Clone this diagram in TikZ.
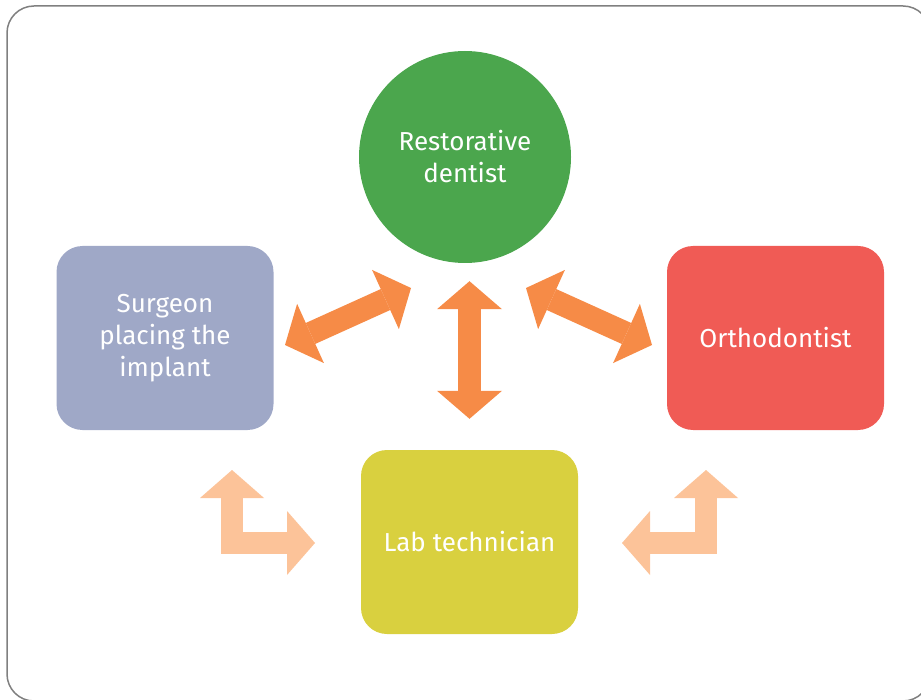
\documentclass[tikz,border=0pt]{standalone}
\usepackage{fontspec}
\setmainfont{Fira Sans}
\usetikzlibrary{arrows.meta}
\definecolor{leadgreen}{RGB}{75,166,77}
\definecolor{surgeonblue}{RGB}{159,168,199}
\definecolor{orthored}{RGB}{240,91,85}
\definecolor{labyellow}{RGB}{217,208,63}
\definecolor{linkorange}{RGB}{246,139,71}
\definecolor{linkpeach}{RGB}{252,195,153}
\definecolor{framegray}{RGB}{128,128,128}

\begin{document}
\begin{tikzpicture}[x=1pt,y=-1pt]
  \tikzstyle{every node}=[text=white,align=center,font=\fontsize{26}{32}\selectfont]
  \tikzstyle{role}=[rectangle,rounded corners=26pt,minimum width=217pt,minimum height=184pt,inner sep=0pt]
  \tikzstyle{lead}=[circle,minimum size=212pt,inner sep=0pt]
  \tikzstyle{twoway}=[draw=linkorange,line width=23pt,
    {Triangle[length=28pt,width=65pt,line width=0pt]}-{Triangle[length=28pt,width=65pt,line width=0pt]}]
  \tikzstyle{turn}=[draw=linkpeach,line width=22pt,line join=miter,
    {Triangle[length=28pt,width=64pt,line width=0pt]}-{Triangle[length=28pt,width=64pt,line width=0pt]}]

  \useasboundingbox (0,0) rectangle (921,700);
  \clip (0,0) rectangle (921,700);
  \draw[framegray,line width=1.5pt,rounded corners=27pt] (7,6) rectangle (930,701);

  \node[lead, fill=leadgreen]    (R) at (465,157)   {Restorative\\dentist};
  \node[role, fill=surgeonblue]  (S) at (165,338)   {Surgeon\\placing the\\implant};
  \node[role, fill=orthored]     (O) at (775.5,338) {Orthodontist};
  \node[role, fill=labyellow]    (L) at (469.5,542) {Lab technician};

  % ends of the diagonal links
  \coordinate (SR1) at (285,345);
  \coordinate (SR2) at (411,288);
  \coordinate (OR1) at (526,288);
  \coordinate (OR2) at (652,345);
  % tips of the bent links
  \coordinate (SLup) at (232,470);
  \coordinate (SLrt) at (315,543);
  \coordinate (OLup) at (706,470);
  \coordinate (OLlt) at (622,543);

  \path (SR1) edge[twoway] (SR2)
        (OR1) edge[twoway] (OR2)
        (L.north |- R.south) edge[twoway,shorten <=18pt,shorten >=31pt] (L.north);

  \draw[turn] (SLup) |- (SLrt);
  \draw[turn] (OLup) |- (OLlt);
\end{tikzpicture}
\end{document}
